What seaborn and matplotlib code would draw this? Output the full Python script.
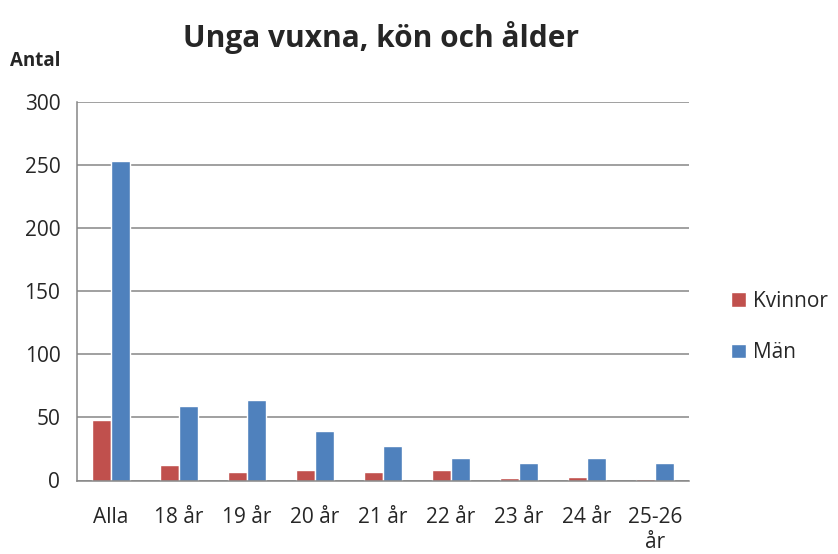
import matplotlib
matplotlib.use("Agg")
import matplotlib.pyplot as plt
import numpy as np
import pandas as pd
import seaborn as sns

categories = ["Alla", "18 år", "19 år", "20 år", "21 år", "22 år", "23 år", "24 år", "25-26\når"]
kvinnor = [48, 12, 7, 8, 7, 8, 2, 3, 1]
man = [253, 59, 64, 39, 27, 18, 14, 18, 14]
series = ["Kvinnor", "Män"]
colors = ["#C0504D", "#4F81BD"]

df = pd.DataFrame({
    "kategori": categories * 2,
    "antal": kvinnor + man,
    "kon": [series[0]] * len(categories) + [series[1]] * len(categories),
})

sns.set_style("white")
plt.rcParams["font.family"] = ["Open Sans", "DejaVu Sans"]

fig = plt.figure(figsize=(8.38, 5.54), dpi=100)
ax = fig.add_axes([77 / 838, 1 - 480.5 / 554, 612 / 838, 379 / 554])

sns.barplot(data=df, x="kategori", y="antal", hue="kon", palette=colors,
            width=0.57, gap=0, saturation=1, ax=ax, legend=True)

ax.set_ylim(0, 300)
ax.set_xlim(-0.5, len(categories) - 0.5)
ax.set_yticks(np.arange(0, 301, 50))
ax.yaxis.grid(True, color="#868686", linewidth=1.1)
ax.set_axisbelow(True)
ax.set_xlabel("")
ax.set_ylabel("")

for side in ["top", "right"]:
    ax.spines[side].set_visible(False)
for side in ["left", "bottom"]:
    ax.spines[side].set_color("#868686")
    ax.spines[side].set_linewidth(1.1)

# x tick marks between categories, labels at centers
ax.set_xticks(np.arange(len(categories)))
ax.set_xticklabels(categories, fontsize=15, linespacing=1.25)
ax.set_xticks(np.arange(-0.5, len(categories)), minor=True)
ax.tick_params(axis="x", which="major", length=0, pad=19)
ax.tick_params(axis="x", which="minor", length=7, color="#868686", width=1.1)
ax.tick_params(axis="y", length=6, color="#868686", width=1.1, labelsize=15, pad=6)
for lbl in ax.get_xticklabels():
    lbl.set_verticalalignment("top")

handles, labels = ax.get_legend_handles_labels()
ax.legend(handles, labels, loc="center left", bbox_to_anchor=(731 / 838, 1 - 327 / 554),
          bbox_transform=fig.transFigure, frameon=False, fontsize=15,
          borderaxespad=0, borderpad=0,
          handlelength=0.7, handleheight=0.7, handletextpad=0.35, labelspacing=1.45)

fig.text(381 / 838, 1 - 37 / 554, "Unga vuxna, kön och ålder", ha="center", va="center",
         fontsize=21.5, fontweight="bold")
fig.text(10 / 838, 1 - 61 / 554, "Antal", ha="left", va="center", fontsize=13.5, fontweight="bold")

fig.savefig("out.png", dpi=100)
